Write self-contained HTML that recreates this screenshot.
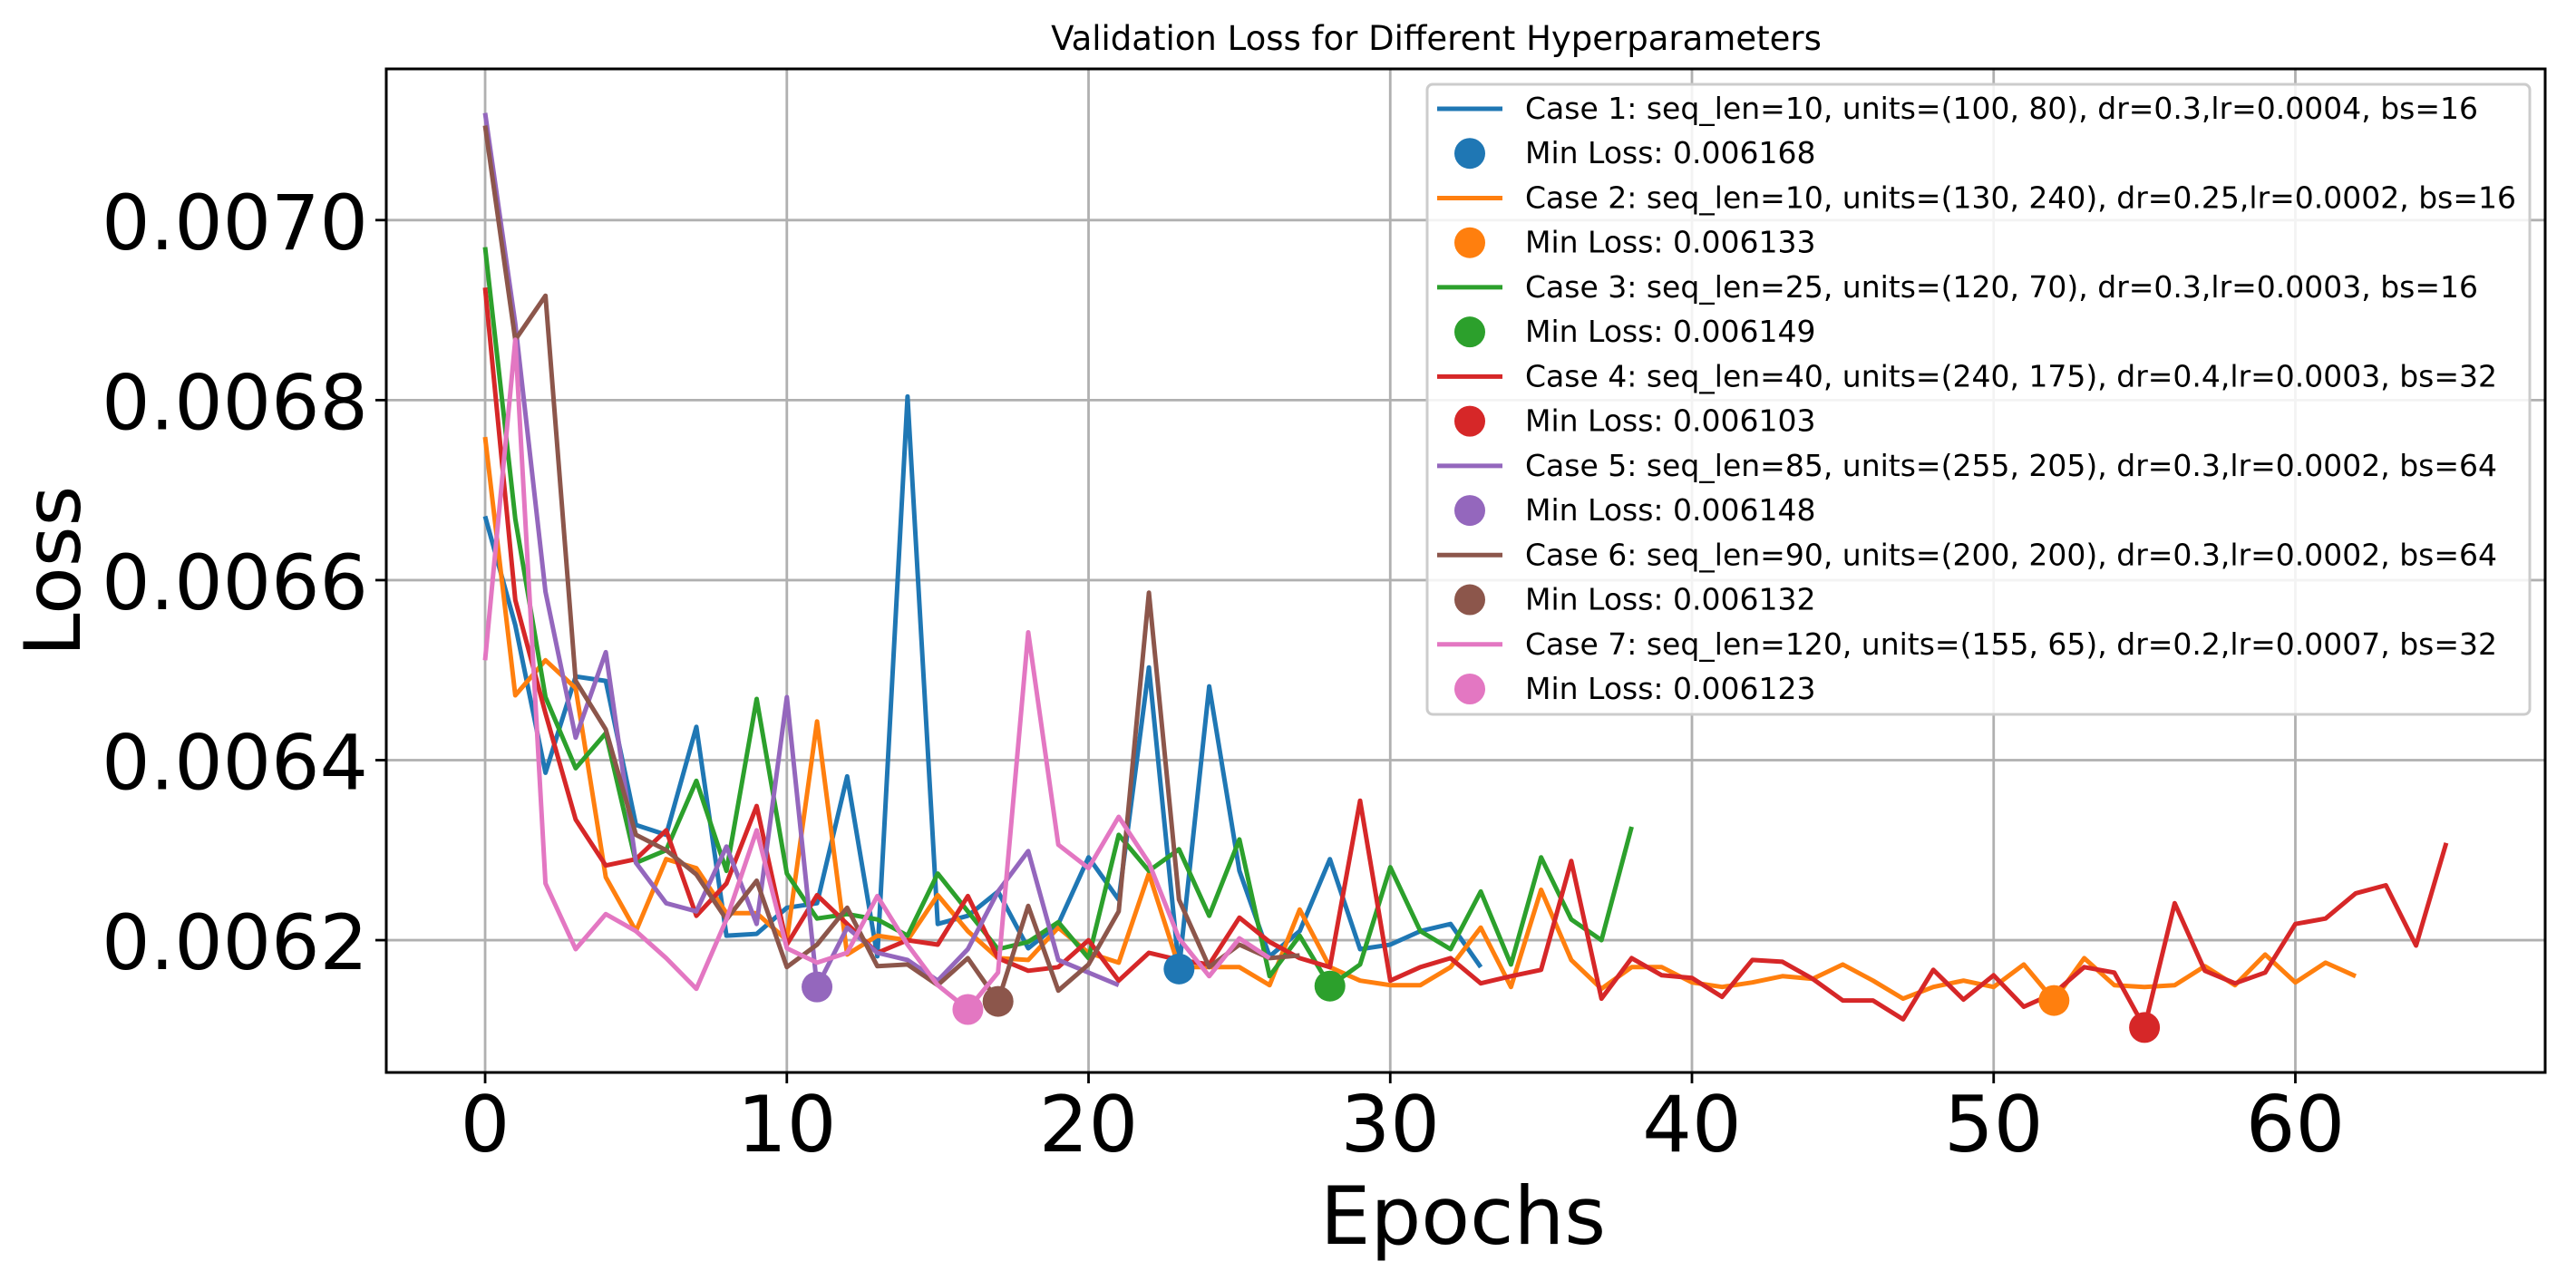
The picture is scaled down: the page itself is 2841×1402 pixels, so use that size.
<!DOCTYPE html>
<html><head><meta charset="utf-8"><style>
html,body{margin:0;padding:0;background:#fff;}
svg{display:block;font-family:"DejaVu Sans","Liberation Sans",sans-serif;}
</style></head><body>
<svg id="chart" width="2841" height="1402" viewBox="0 0 2841 1402" xmlns="http://www.w3.org/2000/svg"></svg>
<script>
const colors=["#1f77b4","#ff7f0e","#2ca02c","#d62728","#9467bd","#8c564b","#e377c2"];
const caseLabels=[
"Case 1: seq_len=10, units=(100, 80), dr=0.3,lr=0.0004, bs=16",
"Case 2: seq_len=10, units=(130, 240), dr=0.25,lr=0.0002, bs=16",
"Case 3: seq_len=25, units=(120, 70), dr=0.3,lr=0.0003, bs=16",
"Case 4: seq_len=40, units=(240, 175), dr=0.4,lr=0.0003, bs=32",
"Case 5: seq_len=85, units=(255, 205), dr=0.3,lr=0.0002, bs=64",
"Case 6: seq_len=90, units=(200, 200), dr=0.3,lr=0.0002, bs=64",
"Case 7: seq_len=120, units=(155, 65), dr=0.2,lr=0.0007, bs=32"];
const case1=[0.006671,0.00655,0.006386,0.006493,0.006488,0.006328,0.006317,0.006437,0.006205,0.006207,0.006236,0.006241,0.006382,0.006182,0.006804,0.006218,0.006227,0.006254,0.006191,0.006218,0.006292,0.006245,0.006503,0.006168,0.006482,0.006277,0.006182,0.00621,0.00629,0.00619,0.006195,0.00621,0.006218,0.00617];
const case2=[0.006759,0.006472,0.006511,0.00648,0.00627,0.00621,0.00629,0.00628,0.00623,0.00623,0.0062,0.006443,0.006184,0.006205,0.0062,0.00625,0.00621,0.00618,0.006178,0.006214,0.006186,0.006175,0.006274,0.00617,0.00617,0.00617,0.00615,0.006234,0.00617,0.006155,0.00615,0.00615,0.00617,0.006214,0.006148,0.006256,0.006178,0.006146,0.00617,0.00617,0.006153,0.006148,0.006153,0.00616,0.006157,0.006173,0.006155,0.006135,0.006148,0.006155,0.006148,0.006173,0.006133,0.00618,0.00615,0.006148,0.00615,0.006171,0.00615,0.006184,0.006153,0.006175,0.00616];
const case3=[0.00697,0.006668,0.00647,0.006391,0.00643,0.006286,0.0063,0.006377,0.006277,0.006468,0.006274,0.006224,0.006229,0.006223,0.006205,0.006274,0.006232,0.00619,0.006198,0.00622,0.00618,0.006317,0.006277,0.006301,0.006227,0.006312,0.00616,0.006205,0.006149,0.006173,0.006281,0.00621,0.00619,0.006254,0.006173,0.006292,0.006223,0.0062,0.006326];
const case4=[0.006925,0.006578,0.006452,0.006334,0.006283,0.00629,0.006322,0.006227,0.006263,0.006349,0.006195,0.00625,0.006218,0.006186,0.0062,0.006195,0.006249,0.00618,0.006166,0.00617,0.0062,0.006155,0.006186,0.006178,0.006173,0.006225,0.006198,0.00618,0.00617,0.006355,0.006155,0.00617,0.00618,0.006152,0.00616,0.006167,0.006288,0.006135,0.00618,0.006161,0.006158,0.006137,0.006178,0.006176,0.006157,0.006133,0.006133,0.006112,0.006167,0.006134,0.006161,0.006126,0.006141,0.00617,0.006164,0.006103,0.006241,0.006166,0.006152,0.006164,0.006218,0.006224,0.006252,0.006261,0.006194,0.006308];
const case5=[0.007119,0.006885,0.006587,0.006425,0.00652,0.006286,0.006241,0.006232,0.006304,0.006218,0.00647,0.006148,0.006214,0.006186,0.006178,0.006155,0.00619,0.006254,0.006299,0.006178,0.006164,0.00615];
const case6=[0.007105,0.006867,0.006916,0.006488,0.006434,0.006317,0.0063,0.006273,0.006223,0.006266,0.00617,0.006195,0.006236,0.006171,0.006173,0.00615,0.00618,0.006132,0.006238,0.006144,0.006173,0.006232,0.006586,0.006245,0.00617,0.006195,0.00618,0.006183];
const case7=[0.006511,0.006867,0.006263,0.00619,0.006229,0.00621,0.00618,0.006146,0.006223,0.006322,0.006191,0.006175,0.006186,0.006249,0.006195,0.00615,0.006123,0.006164,0.006542,0.006306,0.00628,0.006337,0.006286,0.006202,0.00616,0.006202,0.00618];
const series=[case1,case2,case3,case4,case5,case6,case7];
const xTicks=[0,10,20,30,40,50,60];
const yTicks=[0.0062,0.0064,0.0066,0.0068,0.0070];
const yTickLabels=["0.0062","0.0064","0.0066","0.0068","0.0070"];

const L=426,R=2807,T=76,B=1183;
const xMin=-3.277,xMax=68.28,yMin=0.006053,yMax=0.007168;
const xs=v=>L+(v-xMin)/(xMax-xMin)*(R-L);
const ys=v=>B-(v-yMin)/(yMax-yMin)*(B-T);
const svg=document.getElementById('chart');
const NS="http://www.w3.org/2000/svg";
function mk(tag,attrs,parent){const e=document.createElementNS(NS,tag);for(const k in attrs)e.setAttribute(k,attrs[k]);(parent||svg).appendChild(e);return e;}

const clip=mk('clipPath',{id:'clipA'});mk('rect',{x:L,y:T,width:R-L,height:B-T},clip);

xTicks.forEach(t=>{const g=mk('line',{x1:xs(t),x2:xs(t),y1:T,y2:B,stroke:'#b0b0b0','stroke-width':2.8});

});
yTicks.forEach(t=>{const g=mk('line',{x1:L,x2:R,y1:ys(t),y2:ys(t),stroke:'#b0b0b0','stroke-width':2.8});

});

const gS=mk('g',{'clip-path':'url(#clipA)'});
series.forEach((arr,i)=>{
 const pts=arr.map((v,j)=>xs(j).toFixed(1)+','+ys(v).toFixed(1)).join(' ');
 const p=mk('polyline',{points:pts,fill:'none',stroke:colors[i],'stroke-width':5,'stroke-linejoin':'round'},gS);
 
 
});
series.forEach((arr,i)=>{
 let mi=0;arr.forEach((v,j)=>{if(v<arr[mi])mi=j;});
 const c=mk('circle',{cx:xs(mi),cy:ys(arr[mi]),r:17,fill:colors[i]},gS);
 
 
});

const fr=mk('rect',{x:L,y:T,width:R-L,height:B-T,fill:'none',stroke:'#000','stroke-width':3});



xTicks.forEach(t=>{mk('line',{x1:xs(t),x2:xs(t),y1:B,y2:B+12,stroke:'#000','stroke-width':2.8});
 const tx=mk('text',{x:xs(t),y:1270,'font-size':86,'text-anchor':'middle',fill:'#000'});tx.textContent=t;
 
 });
yTicks.forEach((t,i)=>{mk('line',{x1:L-12,x2:L,y1:ys(t),y2:ys(t),stroke:'#000','stroke-width':2.8});
 const tx=mk('text',{x:L-20,y:ys(t)+32,'font-size':84,'text-anchor':'end',fill:'#000'});tx.textContent=yTickLabels[i];
 
 });

const xt=mk('text',{x:(L+R)/2-3,y:1372,'font-size':88,'text-anchor':'middle'});xt.textContent='Epochs';


const yt=mk('text',{x:0,y:0,'font-size':86,'text-anchor':'middle',transform:'translate(88,630) rotate(-90)'});yt.textContent='Loss';


const tt=mk('text',{x:1584,y:55,'font-size':37,'text-anchor':'middle'});tt.textContent='Validation Loss for Different Hyperparameters';



const lg=mk('g',{});


mk('rect',{x:1574,y:93,width:1216,height:695,rx:6,fill:'#fff','fill-opacity':0.85,stroke:'#cccccc','stroke-width':3},lg);
series.forEach((arr,i)=>{
 const y1=120+i*2*49.23, y2=y1+49.23;
 let mn=Math.min(...arr);
 mk('line',{x1:1585,x2:1657,y1:y1,y2:y1,stroke:colors[i],'stroke-width':5},lg);
 const t1=mk('text',{x:1682,y:y1+11,'font-size':33},lg);t1.textContent=caseLabels[i];
 
 
 mk('circle',{cx:1621,cy:y2,r:17,fill:colors[i]},lg);
 const t2=mk('text',{x:1682,y:y2+11,'font-size':33},lg);t2.textContent='Min Loss: '+mn.toFixed(6);
 
 
});
</script>
</body></html>
